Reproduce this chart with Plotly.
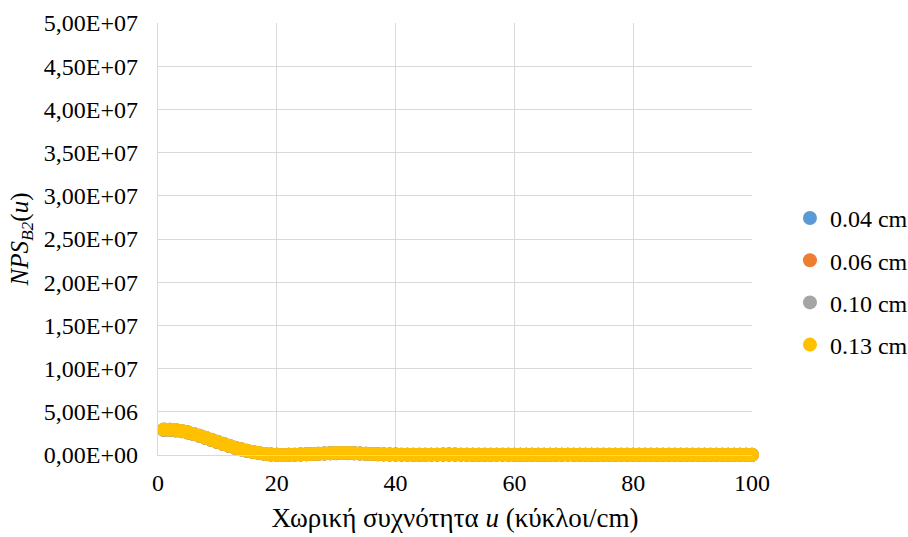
import plotly.graph_objects as go

# Noise power spectrum NPS_B2(u) for four detector thicknesses, in units of 1e6
nps_004 = [2.90, 2.89, 2.84, 2.75, 2.60, 2.42, 2.21, 1.98, 1.74, 1.50, 1.27, 1.04, 0.83, 0.64, 0.47, 0.33, 0.21, 0.12, 0.05, 0.02,
           0.01, 0.02, 0.03, 0.05, 0.08, 0.11, 0.14, 0.17, 0.19, 0.21, 0.22, 0.21, 0.19, 0.17, 0.14, 0.11, 0.09, 0.07, 0.06, 0.05,
           0.04, 0.04, 0.03, 0.03, 0.03, 0.04, 0.04, 0.04, 0.05, 0.04, 0.04, 0.03, 0.03, 0.03, 0.03, 0.03, 0.04, 0.04, 0.03, 0.03,
           0.03, 0.02, 0.02, 0.02, 0.03, 0.03, 0.03, 0.03, 0.04, 0.03, 0.03, 0.03, 0.02, 0.02, 0.02, 0.02, 0.02, 0.03, 0.03, 0.03,
           0.02, 0.02, 0.02, 0.02, 0.02, 0.02, 0.03, 0.03, 0.02, 0.02, 0.02, 0.02, 0.02, 0.02, 0.02, 0.02, 0.02, 0.02, 0.02, 0.02]
nps_006 = [2.92, 2.91, 2.86, 2.76, 2.61, 2.43, 2.22, 1.99, 1.75, 1.51, 1.28, 1.05, 0.84, 0.65, 0.48, 0.34, 0.22, 0.12, 0.06, 0.02,
           0.01, 0.02, 0.04, 0.06, 0.08, 0.11, 0.15, 0.17, 0.20, 0.21, 0.22, 0.22, 0.20, 0.17, 0.15, 0.12, 0.09, 0.07, 0.06, 0.05,
           0.04, 0.04, 0.03, 0.03, 0.03, 0.04, 0.04, 0.05, 0.05, 0.05, 0.04, 0.04, 0.03, 0.03, 0.03, 0.03, 0.04, 0.04, 0.04, 0.03,
           0.03, 0.02, 0.02, 0.02, 0.03, 0.03, 0.03, 0.04, 0.04, 0.03, 0.03, 0.03, 0.03, 0.02, 0.02, 0.02, 0.02, 0.03, 0.03, 0.03,
           0.03, 0.02, 0.02, 0.02, 0.02, 0.02, 0.03, 0.03, 0.03, 0.02, 0.02, 0.02, 0.02, 0.02, 0.02, 0.02, 0.02, 0.02, 0.02, 0.02]
nps_010 = [2.94, 2.92, 2.87, 2.77, 2.62, 2.44, 2.23, 2.00, 1.76, 1.52, 1.29, 1.06, 0.85, 0.66, 0.49, 0.34, 0.22, 0.13, 0.06, 0.02,
           0.01, 0.02, 0.04, 0.06, 0.09, 0.12, 0.15, 0.18, 0.20, 0.22, 0.23, 0.22, 0.20, 0.18, 0.15, 0.12, 0.10, 0.08, 0.06, 0.05,
           0.04, 0.04, 0.03, 0.03, 0.03, 0.04, 0.04, 0.05, 0.05, 0.05, 0.04, 0.04, 0.03, 0.03, 0.03, 0.03, 0.04, 0.04, 0.04, 0.03,
           0.03, 0.02, 0.02, 0.02, 0.03, 0.03, 0.03, 0.04, 0.04, 0.04, 0.03, 0.03, 0.03, 0.02, 0.02, 0.02, 0.02, 0.03, 0.03, 0.03,
           0.03, 0.02, 0.02, 0.02, 0.02, 0.02, 0.03, 0.03, 0.03, 0.02, 0.02, 0.02, 0.02, 0.02, 0.02, 0.02, 0.02, 0.02, 0.02, 0.02]
nps_013 = [2.95, 2.93, 2.88, 2.78, 2.63, 2.45, 2.24, 2.01, 1.77, 1.53, 1.29, 1.06, 0.85, 0.66, 0.49, 0.35, 0.23, 0.13, 0.06, 0.02,
           0.01, 0.02, 0.04, 0.06, 0.09, 0.12, 0.15, 0.18, 0.20, 0.22, 0.23, 0.22, 0.20, 0.18, 0.15, 0.12, 0.10, 0.08, 0.06, 0.05,
           0.04, 0.04, 0.03, 0.03, 0.03, 0.04, 0.04, 0.05, 0.05, 0.05, 0.04, 0.04, 0.03, 0.03, 0.03, 0.03, 0.04, 0.04, 0.04, 0.03,
           0.03, 0.02, 0.02, 0.02, 0.03, 0.03, 0.03, 0.04, 0.04, 0.04, 0.03, 0.03, 0.03, 0.02, 0.02, 0.02, 0.02, 0.03, 0.03, 0.03,
           0.03, 0.02, 0.02, 0.02, 0.02, 0.02, 0.03, 0.03, 0.03, 0.02, 0.02, 0.02, 0.02, 0.02, 0.02, 0.02, 0.02, 0.02, 0.02, 0.02]

series_names = ["0.04 cm", "0.06 cm", "0.10 cm", "0.13 cm"]
series_values = [nps_004, nps_006, nps_010, nps_013]
series_colors = ["#5B9BD5", "#ED7D31", "#A5A5A5", "#FFC000"]

y_ticks = [0, 5e6, 1e7, 1.5e7, 2e7, 2.5e7, 3e7, 3.5e7, 4e7, 4.5e7, 5e7]
x_ticks = [0, 20, 40, 60, 80, 100]

FONT = "Liberation Serif"

fig = go.Figure()
for i, (name, vals, col) in enumerate(zip(series_names, series_values, series_colors)):
    u = list(range(1, len(vals) + 1))
    fig.add_trace(go.Scatter(
        x=u, y=[v * 1e6 for v in vals], name=name, mode="markers",
        marker=dict(color=col, size=14, line=dict(width=0)),
        legendgroup=f"g{i}", cliponaxis=False,
    ))

grid = "#D9D9D9"
fig.update_layout(
    template="none",
    width=908, height=537,
    margin=dict(l=158, r=156, t=23, b=82),
    paper_bgcolor="white", plot_bgcolor="white",
    font=dict(family=FONT, size=24, color="#000000"),
    showlegend=True,
    legend=dict(
        xref="container", yref="container",
        x=0.870, xanchor="left", y=0.476, yanchor="middle",
        traceorder="grouped", tracegroupgap=8,
        font=dict(family=FONT, size=24, color="#000000"), itemwidth=30,
        bgcolor="rgba(0,0,0,0)",
    ),
    xaxis=dict(
        range=[0, 100], tickvals=x_ticks, ticktext=[str(t) for t in x_ticks],
        showgrid=True, gridcolor=grid, gridwidth=1.3,
        showline=True, linecolor=grid, linewidth=1.3,
        zeroline=False, ticks="", ticklen=0, ticklabelstandoff=6,
        title=dict(text="Χωρική συχνότητα <i>u</i> (κύκλοι/cm)",
                   font=dict(family=FONT, size=27, color="#000000"), standoff=13),
        tickfont=dict(family=FONT, size=24, color="#000000"),
    ),
    yaxis=dict(
        range=[0, 5e7], tickvals=y_ticks,
        ticktext=[f"{t:.2E}".replace(".", ",") for t in y_ticks],
        showgrid=True, gridcolor=grid, gridwidth=1.3,
        showline=True, linecolor=grid, linewidth=1.3,
        zeroline=False, ticks="", ticklen=0, ticklabelstandoff=14,
        title=dict(text="<i>NPS</i><sub><i>B2</i></sub>(<i>u</i>)",
                   font=dict(family=FONT, size=25, color="#000000"), standoff=8),
        tickfont=dict(family=FONT, size=24, color="#000000"),
    ),
)

fig.write_html("out.html")
